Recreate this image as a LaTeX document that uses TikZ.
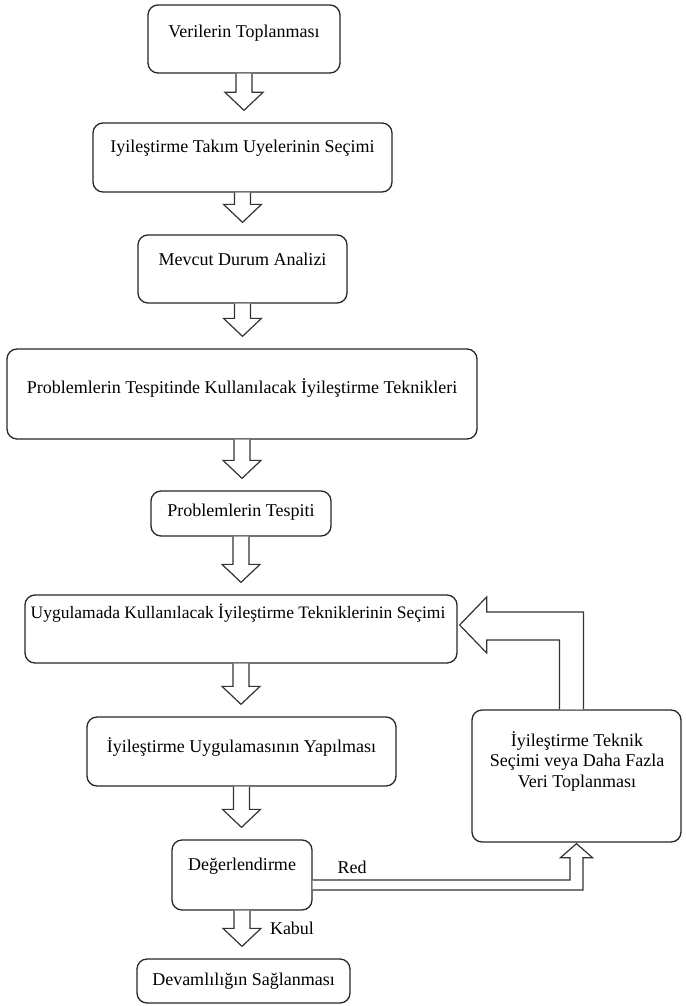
\documentclass[tikz,border=0pt]{standalone}
\usepackage{fontspec}
\setmainfont{Liberation Serif}
\usetikzlibrary{calc}

\tikzset{
  box/.style={draw=black!85, line width=1.3pt, rounded corners=10pt, inner sep=0pt},
  lbl/.style={inner sep=0pt, font=\fontsize{18}{20.5}\selectfont, align=center},
  blk/.style={draw=black!80, line width=1.2pt, line join=miter, fill=white},
}

% hollow block arrow from the bottom of one box towards the top of the next
\newcommand{\blockdown}[2]{%
  \draw[blk] let \p1=(#1.south), \p2=(#2.north) in
    (\x1-8pt,\y1) -- (\x1-8pt,\y2+30pt) -- (\x1-19pt,\y2+30pt) --
    (\x1,\y2+12pt) -- (\x1+19pt,\y2+30pt) -- (\x1+8pt,\y2+30pt) --
    (\x1+8pt,\y1);}

\begin{document}
\begin{tikzpicture}[x=1pt,y=-1pt]
\useasboundingbox (0,0) rectangle (685,1006);

% process boxes
\node[box, minimum width=192pt, minimum height=68pt] (b1) at (244,39) {};
\node[box, minimum width=299pt, minimum height=69pt] (b2) at (242.5,157.5) {};
\node[box, minimum width=209pt, minimum height=68pt] (b3) at (242.5,269) {};
\node[box, minimum width=470pt, minimum height=90pt] (b4) at (242,394) {};
\node[box, minimum width=180pt, minimum height=45pt] (b5) at (241,513.5) {};
\node[box, minimum width=432pt, minimum height=68pt] (b6) at (241,629) {};
\node[box, minimum width=309pt, minimum height=69pt] (b7) at (241.5,751.5) {};
\node[box, minimum width=140pt, minimum height=70pt] (b8) at (242,875) {};
\node[box, minimum width=213pt, minimum height=44pt] (b9) at (243.5,981) {};
\node[box, minimum width=209pt, minimum height=132pt] (r) at (576.5,776) {};

% box texts
\node[lbl] (t1) at (244,33) {Verilerin Toplanması};
\node[lbl] (t2) at (242.5,148) {Iyileştirme Takım Uyelerinin Seçimi};
\node[lbl] (t3) at (242.5,259) {Mevcut Durum Analizi};
\node[lbl] (t4) at (242,388) {Problemlerin Tespitinde Kullanılacak İyileştirme Teknikleri};
\node[lbl] (t5) at (241,512) {Problemlerin Tespiti};
\node[lbl, font=\fontsize{17.5}{20}\selectfont] (t6) at (238,613) {Uygulamada Kullanılacak İyileştirme Tekniklerinin Seçimi};
\node[lbl] (t7) at (241.5,747) {İyileştirme Uygulamasının Yapılması};
\node[lbl] (t8) at (242,866) {Değerlendirme};
\node[lbl] (t9) at (243.5,981) {Devamlılığın Sağlanması};
\node[lbl] (tr) at (577,761) {İyileştirme Teknik\\Seçimi veya Daha Fazla\\Veri Toplanması};

% main flow
\blockdown{b1}{b2}
\blockdown{b2}{b3}
\blockdown{b3}{b4}
\blockdown{b4}{b5}
\blockdown{b5}{b6}
\blockdown{b6}{b7}
\blockdown{b7}{b8}
\blockdown{b8}{b9}

% rejection path up to the right box
\draw[blk] let \p1=(b8.east), \p2=(r.south) in
  (\x1,\y1-5pt) -- (\x2-6.5pt,\y1-5pt) -- (\x2-6.5pt,\y2-15pt) --
  (\x2-16pt,\y2-15pt) -- (\x2,\y2-1pt) -- (\x2+16pt,\y2-15pt) --
  (\x2+6.5pt,\y2-15pt) -- (\x2+6.5pt,\y1-15pt) -- (\x1,\y1-15pt);

% feedback from the right box to the selection step
\draw[blk] let \p1=(b6.east), \p2=(r.north) in
  (\x2-17pt,\y2) -- (\x2-17pt,\y1-11pt) -- (\x1+29pt,\y1-11pt) --
  (\x1+29pt,\y1-24pt) -- (\x1+2pt,\y1+4pt) -- (\x1+29pt,\y1+32pt) --
  (\x1+29pt,\y1+17pt) -- (\x2+7pt,\y1+17pt) -- (\x2+7pt,\y2);

% branch labels
\node[lbl] (red) at (352,867) {Red};
\node[lbl] (kabul) at (292,928) {Kabul};
\end{tikzpicture}
\end{document}
